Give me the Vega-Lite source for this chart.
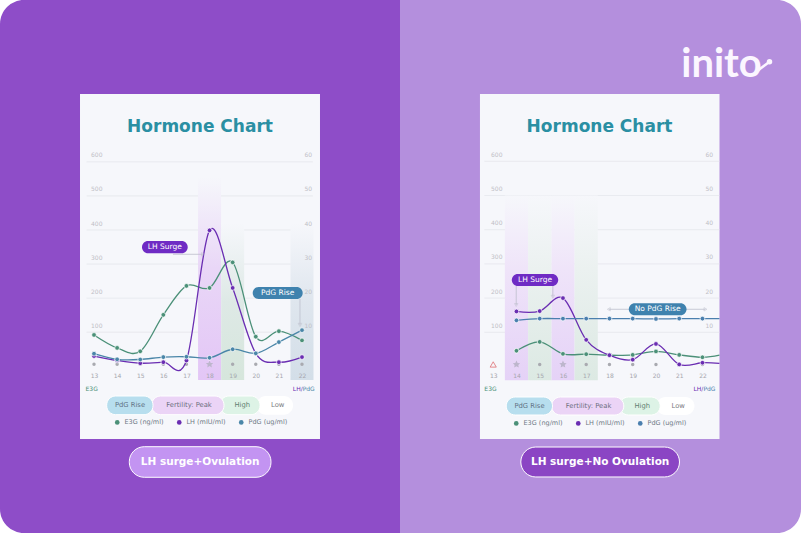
{
"$schema":"https://vega.github.io/schema/vega-lite/v6.json",
"background":"#ffffff",
"padding":0,
"spacing":0,
"bounds":"flush",
"config":{"view":{"stroke":null},"text":{"font":"DejaVu Sans"},"legend":{"labelFont":"DejaVu Sans"},"axis":{"labelFont":"DejaVu Sans"}},
"datasets":{
"one":[{"item":"annotation"}],
"grid":[{"level":100},{"level":200},{"level":300},{"level":400},{"level":500},{"level":600}],
"daysA":[{"day":13,"fertility":"Low","marker":"dot"},{"day":14,"fertility":"Low","marker":"dot"},{"day":15,"fertility":"Low","marker":"dot"},{"day":16,"fertility":"Low","marker":"dot"},{"day":17,"fertility":"Low","marker":"dot"},{"day":18,"fertility":"Peak","marker":"star"},{"day":19,"fertility":"High","marker":"dot"},{"day":20,"fertility":"Low","marker":"dot"},{"day":21,"fertility":"Low","marker":"dot"},{"day":22,"fertility":"PdG","marker":"dot"}],
"daysB":[{"day":13,"fertility":"Low","marker":"warning"},{"day":14,"fertility":"Peak","marker":"star"},{"day":15,"fertility":"High","marker":"dot"},{"day":16,"fertility":"Peak","marker":"star"},{"day":17,"fertility":"High","marker":"dot"},{"day":18,"fertility":"Low","marker":"dot"},{"day":19,"fertility":"Low","marker":"dot"},{"day":20,"fertility":"Low","marker":"dot"},{"day":21,"fertility":"Low","marker":"dot"},{"day":22,"fertility":"Low","marker":"dot"}],
"ovulation":[
{"day":13,"series":"E3G (ng/ml)","value":92},{"day":14,"series":"E3G (ng/ml)","value":54},{"day":15,"series":"E3G (ng/ml)","value":44},{"day":16,"series":"E3G (ng/ml)","value":151},{"day":17,"series":"E3G (ng/ml)","value":236},{"day":18,"series":"E3G (ng/ml)","value":230},{"day":19,"series":"E3G (ng/ml)","value":305},{"day":20,"series":"E3G (ng/ml)","value":87},{"day":21,"series":"E3G (ng/ml)","value":103},{"day":22,"series":"E3G (ng/ml)","value":76},
{"day":13,"series":"LH (mIU/ml)","value":3.0},{"day":14,"series":"LH (mIU/ml)","value":1.7},{"day":15,"series":"LH (mIU/ml)","value":0.9},{"day":16,"series":"LH (mIU/ml)","value":1.2},{"day":17,"series":"LH (mIU/ml)","value":1.7},{"day":18,"series":"LH (mIU/ml)","value":39.9},{"day":19,"series":"LH (mIU/ml)","value":23},{"day":20,"series":"LH (mIU/ml)","value":3.8},{"day":21,"series":"LH (mIU/ml)","value":1.2},{"day":22,"series":"LH (mIU/ml)","value":2.7},
{"day":13,"series":"PdG (ug/ml)","value":3.7},{"day":14,"series":"PdG (ug/ml)","value":2.05},{"day":15,"series":"PdG (ug/ml)","value":2.0},{"day":16,"series":"PdG (ug/ml)","value":2.7},{"day":17,"series":"PdG (ug/ml)","value":2.8},{"day":18,"series":"PdG (ug/ml)","value":2.5},{"day":19,"series":"PdG (ug/ml)","value":5},{"day":20,"series":"PdG (ug/ml)","value":3.8},{"day":21,"series":"PdG (ug/ml)","value":7.1},{"day":22,"series":"PdG (ug/ml)","value":10.6}
],
"noOvulation":[
{"day":14,"series":"E3G (ng/ml)","value":46},{"day":15,"series":"E3G (ng/ml)","value":72},{"day":16,"series":"E3G (ng/ml)","value":37},{"day":17,"series":"E3G (ng/ml)","value":36},{"day":18,"series":"E3G (ng/ml)","value":33},{"day":19,"series":"E3G (ng/ml)","value":34},{"day":20,"series":"E3G (ng/ml)","value":44},{"day":21,"series":"E3G (ng/ml)","value":34},{"day":22,"series":"E3G (ng/ml)","value":27},{"day":22.73,"series":"E3G (ng/ml)","value":33},
{"day":14,"series":"LH (mIU/ml)","value":16.1},{"day":15,"series":"LH (mIU/ml)","value":16.2},{"day":16,"series":"LH (mIU/ml)","value":20},{"day":17,"series":"LH (mIU/ml)","value":7.8},{"day":18,"series":"LH (mIU/ml)","value":3.3},{"day":19,"series":"LH (mIU/ml)","value":2.0},{"day":20,"series":"LH (mIU/ml)","value":6.6},{"day":21,"series":"LH (mIU/ml)","value":0.6},{"day":22,"series":"LH (mIU/ml)","value":1.1},{"day":22.73,"series":"LH (mIU/ml)","value":0.9},
{"day":14,"series":"PdG (ug/ml)","value":13.5},{"day":15,"series":"PdG (ug/ml)","value":14},{"day":16,"series":"PdG (ug/ml)","value":14},{"day":17,"series":"PdG (ug/ml)","value":14},{"day":18,"series":"PdG (ug/ml)","value":14},{"day":19,"series":"PdG (ug/ml)","value":14},{"day":20,"series":"PdG (ug/ml)","value":13.9},{"day":21,"series":"PdG (ug/ml)","value":14},{"day":22,"series":"PdG (ug/ml)","value":14},{"day":22.73,"series":"PdG (ug/ml)","value":14}
]
},
"hconcat":[
{
"width":400,"height":533,
"resolve":{"scale":{"y":"independent"}},
"layer":[
{"layer":[
{"data":{"name":"one"},"mark":{"type":"rect","color":"#8E4DC8","cornerRadiusTopLeft":24,"cornerRadiusBottomLeft":24},
"encoding":{"x":{"datum":8.932,"scale":{"domain":[8.932,26.241],"nice":false,"zero":false,"padding":0},"axis":{"values":[13,14,15,16,17,18,19,20,21,22],"orient":"bottom","offset":-161,"domain":false,"ticks":false,"grid":false,"labelPadding":0,"labelFontSize":6,"labelColor":"#A5A6AD","title":null,"zindex":2,"labelBaseline":"top"}},"x2":{"datum":26.241},"y":{"datum":-489.3,"scale":{"domain":[-489.3,1075.1],"nice":false,"zero":false},"axis":{"values":[100,200,300,400,500,600],"orient":"left","offset":-102,"domain":false,"ticks":false,"grid":false,"labelPadding":0,"labelOffset":-7,"labelFontSize":6,"labelColor":"#BFC0C6","title":null,"zindex":2}},"y2":{"datum":1075.1}}},
{"data":{"name":"one"},"mark":{"type":"rect","color":"#F6F7FB"},
"encoding":{"x":{"datum":12.394},"x2":{"datum":22.779},"y":{"datum":-213.4},"y2":{"datum":799.2}}},
{"data":{"name":"grid"},"mark":{"type":"rule","color":"#E3E4EA","strokeWidth":0.7},
"encoding":{"x":{"datum":12.68},"x2":{"datum":22.47},"y":{"field":"level","type":"quantitative"}}},
{"data":{"name":"daysA"},"transform":[{"filter":"datum.fertility==='Peak'"}],
"mark":{"type":"bar","size":23,"orient":"vertical","color":{"gradient":"linear","x1":0,"y1":0,"x2":0,"y2":1,"stops":[{"offset":0,"color":"#F6F7FB"},{"offset":0.45,"color":"#E9D7F7"},{"offset":1,"color":"#E3C6F6"}]}},
"encoding":{"x":{"field":"day","type":"quantitative"},"y":{"datum":-40},"y2":{"datum":556}}},
{"data":{"name":"daysA"},"transform":[{"filter":"datum.fertility==='High'"}],
"mark":{"type":"bar","size":23,"orient":"vertical","color":{"gradient":"linear","x1":0,"y1":0,"x2":0,"y2":1,"stops":[{"offset":0,"color":"#F6F7FB"},{"offset":0.5,"color":"#DEE9E6"},{"offset":1,"color":"#D6E6DC"}]}},
"encoding":{"x":{"field":"day","type":"quantitative"},"y":{"datum":-40},"y2":{"datum":420}}},
{"data":{"name":"daysA"},"transform":[{"filter":"datum.fertility==='PdG'"}],
"mark":{"type":"bar","size":23,"orient":"vertical","color":{"gradient":"linear","x1":0,"y1":0,"x2":0,"y2":1,"stops":[{"offset":0,"color":"#F6F7FB"},{"offset":0.5,"color":"#DFE6EE"},{"offset":1,"color":"#D3DEE8"}]}},
"encoding":{"x":{"field":"day","type":"quantitative"},"y":{"datum":-40},"y2":{"datum":420}}},
{"data":{"name":"daysA"},"transform":[{"filter":"datum.marker==='dot'"}],"mark":{"type":"point","filled":true,"shape":"circle","size":12,"color":"#A9AAB0","opacity":1},
"encoding":{"x":{"field":"day","type":"quantitative"},"y":{"datum":6}}},
{"data":{"name":"daysA"},"transform":[{"filter":"datum.marker==='star'"}],"mark":{"type":"point","filled":true,"shape":"M0,-1L0.29,-0.35L0.95,-0.31L0.47,0.12L0.59,0.81L0,0.45L-0.59,0.81L-0.47,0.12L-0.95,-0.31L-0.29,-0.35Z","size":60,"color":"#BDB6CC","opacity":1},
"encoding":{"x":{"field":"day","type":"quantitative"},"y":{"datum":6}}},
{"data":{"name":"ovulation"},"transform":[{"filter":"datum.series==='E3G (ng/ml)'"}],"mark":{"type":"line","interpolate":"cardinal","strokeWidth":1.3},
"encoding":{"x":{"field":"day","type":"quantitative"},"y":{"field":"value","type":"quantitative"},"color":{"field":"series","type":"nominal"}}},
{"data":{"name":"ovulation"},"transform":[{"filter":"datum.series==='E3G (ng/ml)'"}],"mark":{"type":"point","filled":true,"size":22,"stroke":"#ffffff","strokeWidth":0.7,"opacity":1},
"encoding":{"x":{"field":"day","type":"quantitative"},"y":{"field":"value","type":"quantitative"},"color":{"field":"series","type":"nominal","scale":{"domain":["E3G (ng/ml)","LH (mIU/ml)","PdG (ug/ml)"],"range":["#4B9078","#6A2DB2","#4A86A8"]},"legend":{"orient":"none","legendX":114,"legendY":419,"direction":"horizontal","columns":3,"title":null,"symbolType":"circle","symbolSize":22,"symbolStrokeWidth":0,"labelFontSize":6.5,"labelColor":"#6F7A86","columnPadding":12,"labelOffset":4,"zindex":3}}}}
]},
{"layer":[
{"data":{"name":"ovulation"},"transform":[{"filter":"datum.series!=='E3G (ng/ml)'"}],"mark":{"type":"line","interpolate":"cardinal","strokeWidth":1.3},
"encoding":{"x":{"field":"day","type":"quantitative"},"y":{"field":"value","type":"quantitative","scale":{"domain":[-48.93,107.51],"nice":false,"zero":false},"axis":{"values":[10,20,30,40,50,60],"orient":"right","offset":-96,"domain":false,"ticks":false,"grid":false,"labelPadding":0,"labelOffset":-7,"labelFontSize":6,"labelColor":"#BFC0C6","title":null,"zindex":2}},"color":{"field":"series","type":"nominal"}}},
{"data":{"name":"ovulation"},"transform":[{"filter":"datum.series!=='E3G (ng/ml)'"}],"mark":{"type":"point","filled":true,"size":22,"stroke":"#ffffff","strokeWidth":0.7,"opacity":1},
"encoding":{"x":{"field":"day","type":"quantitative"},"y":{"field":"value","type":"quantitative"},"color":{"field":"series","type":"nominal"}}}
]},
{"layer":[
{"data":{"name":"one"},"mark":{"type":"rule","color":"#BDBFCB","strokeWidth":0.8},"encoding":{"x":{"datum":16.418},"x2":{"datum":17.716},"y":{"datum":328.7,"axis":null,"scale":{"domain":[-489.3,1075.1],"nice":false,"zero":false}}}},
{"data":{"name":"one"},"mark":{"type":"point","shape":"triangle-right","size":12,"color":"#BDBFCB","strokeWidth":0.7},"encoding":{"x":{"datum":17.716},"y":{"datum":328.7,"axis":null}}},
{"data":{"name":"one"},"mark":{"type":"rule","color":"#BDBFCB","strokeWidth":0.8},"encoding":{"x":{"datum":21.913},"y":{"datum":197.5,"axis":null},"y2":{"datum":121.2}}},
{"data":{"name":"one"},"mark":{"type":"point","shape":"triangle-down","size":14,"color":"#BDBFCB","strokeWidth":0.7},"encoding":{"x":{"datum":21.913},"y":{"datum":121.2,"axis":null}}},
{"data":{"name":"one"},"mark":{"type":"rect","color":"#6F2BC4","cornerRadius":6},"encoding":{"x":{"datum":15.077},"x2":{"datum":17.054},"y":{"datum":331.7,"axis":null},"y2":{"datum":367.8}}},
{"data":{"values":[{"label":"LH Surge"}]},"mark":{"type":"text","color":"#ffffff","fontSize":7.5,"fontWeight":500},"encoding":{"text":{"field":"label"},"x":{"datum":16.063},"y":{"datum":349.6,"axis":null}}},
{"data":{"name":"one"},"mark":{"type":"rect","color":"#3F82AE","cornerRadius":6},"encoding":{"x":{"datum":19.867},"x2":{"datum":22.03},"y":{"datum":197.5,"axis":null},"y2":{"datum":232.8}}},
{"data":{"values":[{"label":"PdG Rise"}]},"mark":{"type":"text","color":"#ffffff","fontSize":7.5,"fontWeight":500},"encoding":{"text":{"field":"label"},"x":{"datum":20.948},"y":{"datum":215.1,"axis":null}}},
{"data":{"values":[{"label":"Hormone Chart"}]},"mark":{"type":"text","color":"#2A8FA3","fontSize":17,"fontWeight":"bold"},"encoding":{"text":{"field":"label"},"x":{"datum":17.586},"y":{"datum":703,"axis":null}}},
{"data":{"values":[{"label":"E3G"}]},"mark":{"type":"text","color":"#4B9078","fontSize":6},"encoding":{"text":{"field":"label"},"x":{"datum":12.9},"y":{"datum":-65.7,"axis":null}}},
{"data":{"values":[{"label":"LH/"}]},"mark":{"type":"text","color":"#6A2DB2","fontSize":6,"align":"right"},"encoding":{"text":{"field":"label"},"x":{"datum":22.03},"y":{"datum":-65.7,"axis":null}}},
{"data":{"values":[{"label":"PdG"}]},"mark":{"type":"text","color":"#4A86A8","fontSize":6,"align":"left"},"encoding":{"text":{"field":"label"},"x":{"datum":22.03},"y":{"datum":-65.7,"axis":null}}},
{"data":{"name":"one"},"mark":{"type":"rect","color":"#FFFFFF","cornerRadius":9},"encoding":{"x":{"datum":20.04},"x2":{"datum":21.61},"y":{"datum":-142,"axis":null},"y2":{"datum":-87.2}}},
{"data":{"name":"one"},"mark":{"type":"rect","color":"#DDF3E6","cornerRadius":9,"stroke":"#ffffff","strokeWidth":1},"encoding":{"x":{"datum":18.451},"x2":{"datum":20.183},"y":{"datum":-142,"axis":null},"y2":{"datum":-87.2}}},
{"data":{"name":"one"},"mark":{"type":"rect","color":"#EBD4F6","cornerRadius":9,"stroke":"#ffffff","strokeWidth":1},"encoding":{"x":{"datum":15.496},"x2":{"datum":18.625},"y":{"datum":-142,"axis":null},"y2":{"datum":-87.2}}},
{"data":{"name":"one"},"mark":{"type":"rect","color":"#B7DEEE","cornerRadius":9,"stroke":"#ffffff","strokeWidth":1},"encoding":{"x":{"datum":13.549},"x2":{"datum":15.553},"y":{"datum":-142,"axis":null},"y2":{"datum":-87.2}}},
{"data":{"values":[{"label":"PdG Rise"}]},"mark":{"type":"text","color":"#5F7183","fontSize":6.8},"encoding":{"text":{"field":"label"},"x":{"datum":14.557},"y":{"datum":-115,"axis":null}}},
{"data":{"values":[{"label":"Fertility: Peak"}]},"mark":{"type":"text","color":"#6B6F80","fontSize":6.8},"encoding":{"text":{"field":"label"},"x":{"datum":17.11},"y":{"datum":-115,"axis":null}}},
{"data":{"values":[{"label":"High"}]},"mark":{"type":"text","color":"#5F7F70","fontSize":6.8},"encoding":{"text":{"field":"label"},"x":{"datum":19.417},"y":{"datum":-115,"axis":null}}},
{"data":{"values":[{"label":"Low"}]},"mark":{"type":"text","color":"#7A7A80","fontSize":6.8},"encoding":{"text":{"field":"label"},"x":{"datum":20.95},"y":{"datum":-115,"axis":null}}},
{"data":{"name":"one"},"mark":{"type":"rect","color":"#C394F2","cornerRadius":15,"stroke":"#ffffff","strokeWidth":1},"encoding":{"x":{"datum":14.527},"x2":{"datum":20.659},"y":{"datum":-325.8,"axis":null},"y2":{"datum":-236}}},
{"data":{"values":[{"label":"LH surge+Ovulation"}]},"mark":{"type":"text","color":"#ffffff","fontSize":10.5,"fontWeight":"bold"},"encoding":{"text":{"field":"label"},"x":{"datum":17.593},"y":{"datum":-280.9,"axis":null}}}
]}
]
},
{
"width":401,"height":533,
"resolve":{"scale":{"y":"independent"}},
"layer":[
{"layer":[
{"data":{"name":"one"},"mark":{"type":"rect","color":"#B48FDD","cornerRadiusTopRight":24,"cornerRadiusBottomRight":24},
"encoding":{"x":{"datum":8.991,"scale":{"domain":[8.991,26.238],"nice":false,"zero":false,"padding":0},"axis":{"values":[13,14,15,16,17,18,19,20,21,22],"orient":"bottom","offset":-161,"domain":false,"ticks":false,"grid":false,"labelPadding":0,"labelFontSize":6,"labelColor":"#A5A6AD","title":null,"zindex":2,"labelBaseline":"top"}},"x2":{"datum":26.238},"y":{"datum":-486.8,"scale":{"domain":[-486.8,1071.6],"nice":false,"zero":false},"axis":{"values":[100,200,300,400,500,600],"orient":"left","offset":-102,"domain":false,"ticks":false,"grid":false,"labelPadding":0,"labelOffset":-7,"labelFontSize":6,"labelColor":"#BFC0C6","title":null,"zindex":2}},"y2":{"datum":1071.6}}},
{"data":{"name":"one"},"mark":{"type":"rect","color":"#F6F7FB"},
"encoding":{"x":{"datum":12.43},"x2":{"datum":22.733},"y":{"datum":-212},"y2":{"datum":796.8}}},
{"data":{"name":"grid"},"mark":{"type":"rule","color":"#E3E4EA","strokeWidth":0.7},
"encoding":{"x":{"datum":12.62},"x2":{"datum":22.733},"y":{"field":"level","type":"quantitative"}}},
{"data":{"name":"daysB"},"transform":[{"filter":"datum.fertility==='Peak'"}],
"mark":{"type":"bar","size":23.2,"orient":"vertical","color":{"gradient":"linear","x1":0,"y1":0,"x2":0,"y2":1,"stops":[{"offset":0,"color":"#F6F7FB"},{"offset":0.4,"color":"#EFE4F9"},{"offset":1,"color":"#E5D2F7"}]}},
"encoding":{"x":{"field":"day","type":"quantitative"},"y":{"datum":-40},"y2":{"datum":500}}},
{"data":{"name":"daysB"},"transform":[{"filter":"datum.fertility==='High'"}],
"mark":{"type":"bar","size":23.2,"orient":"vertical","color":{"gradient":"linear","x1":0,"y1":0,"x2":0,"y2":1,"stops":[{"offset":0,"color":"#F6F7FB"},{"offset":0.4,"color":"#EBF1F0"},{"offset":1,"color":"#DCE9E3"}]}},
"encoding":{"x":{"field":"day","type":"quantitative"},"y":{"datum":-40},"y2":{"datum":500}}},
{"data":{"name":"daysB"},"transform":[{"filter":"datum.marker==='dot'"}],"mark":{"type":"point","filled":true,"shape":"circle","size":12,"color":"#A9AAB0","opacity":1},
"encoding":{"x":{"field":"day","type":"quantitative"},"y":{"datum":6}}},
{"data":{"name":"daysB"},"transform":[{"filter":"datum.marker==='star'"}],"mark":{"type":"point","filled":true,"shape":"M0,-1L0.29,-0.35L0.95,-0.31L0.47,0.12L0.59,0.81L0,0.45L-0.59,0.81L-0.47,0.12L-0.95,-0.31L-0.29,-0.35Z","size":60,"color":"#BDB6CC","opacity":1},
"encoding":{"x":{"field":"day","type":"quantitative"},"y":{"datum":6}}},
{"data":{"name":"daysB"},"transform":[{"filter":"datum.marker==='warning'"}],"mark":{"type":"point","shape":"triangle-up","size":38,"color":"#E07C80","strokeWidth":0.9,"opacity":1},
"encoding":{"x":{"field":"day","type":"quantitative"},"y":{"datum":6}}},
{"data":{"name":"noOvulation"},"transform":[{"filter":"datum.series==='E3G (ng/ml)'"}],"mark":{"type":"line","interpolate":"cardinal","strokeWidth":1.3},
"encoding":{"x":{"field":"day","type":"quantitative"},"y":{"field":"value","type":"quantitative"},"color":{"field":"series","type":"nominal"}}},
{"data":{"name":"noOvulation"},"transform":[{"filter":"datum.series==='E3G (ng/ml)' && datum.day<=22"}],"mark":{"type":"point","filled":true,"size":22,"stroke":"#ffffff","strokeWidth":0.7,"opacity":1},
"encoding":{"x":{"field":"day","type":"quantitative"},"y":{"field":"value","type":"quantitative"},"color":{"field":"series","type":"nominal","scale":{"domain":["E3G (ng/ml)","LH (mIU/ml)","PdG (ug/ml)"],"range":["#4B9078","#6A2DB2","#4A7FAE"]},"legend":{"orient":"none","legendX":113,"legendY":420,"direction":"horizontal","columns":3,"title":null,"symbolType":"circle","symbolSize":22,"symbolStrokeWidth":0,"labelFontSize":6.5,"labelColor":"#6F7A86","columnPadding":12,"labelOffset":4,"zindex":3}}}}
]},
{"layer":[
{"data":{"name":"noOvulation"},"transform":[{"filter":"datum.series!=='E3G (ng/ml)'"}],"mark":{"type":"line","interpolate":"cardinal","strokeWidth":1.3},
"encoding":{"x":{"field":"day","type":"quantitative"},"y":{"field":"value","type":"quantitative","scale":{"domain":[-48.68,107.16],"nice":false,"zero":false},"axis":{"values":[10,20,30,40,50,60],"orient":"right","offset":-96,"domain":false,"ticks":false,"grid":false,"labelPadding":0,"labelOffset":-7,"labelFontSize":6,"labelColor":"#BFC0C6","title":null,"zindex":2}},"color":{"field":"series","type":"nominal"}}},
{"data":{"name":"noOvulation"},"transform":[{"filter":"datum.series!=='E3G (ng/ml)' && datum.day<=22"}],"mark":{"type":"point","filled":true,"size":22,"stroke":"#ffffff","strokeWidth":0.7,"opacity":1},
"encoding":{"x":{"field":"day","type":"quantitative"},"y":{"field":"value","type":"quantitative"},"color":{"field":"series","type":"nominal"}}}
]},
{"layer":[
{"data":{"name":"one"},"mark":{"type":"rule","color":"#BDBFCB","strokeWidth":0.8},"encoding":{"x":{"datum":13.99},"y":{"datum":235.4,"axis":null,"scale":{"domain":[-486.8,1071.6],"nice":false,"zero":false}},"y2":{"datum":179.8}}},
{"data":{"name":"one"},"mark":{"type":"point","shape":"triangle-down","size":12,"color":"#BDBFCB","strokeWidth":0.7},"encoding":{"x":{"datum":13.99},"y":{"datum":179.8,"axis":null}}},
{"data":{"name":"one"},"mark":{"type":"rule","color":"#BDBFCB","strokeWidth":0.8},"encoding":{"x":{"datum":15.565},"y":{"datum":235.4,"axis":null},"y2":{"datum":204}}},
{"data":{"name":"one"},"mark":{"type":"point","shape":"triangle-down","size":12,"color":"#BDBFCB","strokeWidth":0.7},"encoding":{"x":{"datum":15.565},"y":{"datum":204,"axis":null}}},
{"data":{"name":"one"},"mark":{"type":"rule","color":"#BDBFCB","strokeWidth":0.8},"encoding":{"x":{"datum":17.972},"x2":{"datum":22.13},"y":{"datum":167.3,"axis":null}}},
{"data":{"name":"one"},"mark":{"type":"point","shape":"triangle-left","size":12,"color":"#BDBFCB","strokeWidth":0.7},"encoding":{"x":{"datum":17.972},"y":{"datum":167.3,"axis":null}}},
{"data":{"name":"one"},"mark":{"type":"point","shape":"triangle-right","size":12,"color":"#BDBFCB","strokeWidth":0.7},"encoding":{"x":{"datum":22.13},"y":{"datum":167.3,"axis":null}}},
{"data":{"name":"one"},"mark":{"type":"rect","color":"#6F2BC4","cornerRadius":6},"encoding":{"x":{"datum":13.8},"x2":{"datum":15.795},"y":{"datum":235.4,"axis":null},"y2":{"datum":270.5}}},
{"data":{"values":[{"label":"LH Surge"}]},"mark":{"type":"text","color":"#ffffff","fontSize":7.5,"fontWeight":500},"encoding":{"text":{"field":"label"},"x":{"datum":14.8},"y":{"datum":252.9,"axis":null}}},
{"data":{"name":"one"},"mark":{"type":"rect","color":"#3F82AE","cornerRadius":6},"encoding":{"x":{"datum":18.832},"x2":{"datum":21.314},"y":{"datum":149.7,"axis":null},"y2":{"datum":184.8}}},
{"data":{"values":[{"label":"No PdG Rise"}]},"mark":{"type":"text","color":"#ffffff","fontSize":7.5,"fontWeight":500},"encoding":{"text":{"field":"label"},"x":{"datum":20.073},"y":{"datum":167.3,"axis":null}}},
{"data":{"values":[{"label":"Hormone Chart"}]},"mark":{"type":"text","color":"#2A8FA3","fontSize":17,"fontWeight":"bold"},"encoding":{"text":{"field":"label"},"x":{"datum":17.572},"y":{"datum":701,"axis":null}}},
{"data":{"values":[{"label":"E3G"}]},"mark":{"type":"text","color":"#4B9078","fontSize":6},"encoding":{"text":{"field":"label"},"x":{"datum":12.883},"y":{"datum":-64.9,"axis":null}}},
{"data":{"values":[{"label":"LH/"}]},"mark":{"type":"text","color":"#6A2DB2","fontSize":6,"align":"right"},"encoding":{"text":{"field":"label"},"x":{"datum":22.04},"y":{"datum":-64.9,"axis":null}}},
{"data":{"values":[{"label":"PdG"}]},"mark":{"type":"text","color":"#4A7FAE","fontSize":6,"align":"left"},"encoding":{"text":{"field":"label"},"x":{"datum":22.04},"y":{"datum":-64.9,"axis":null}}},
{"data":{"name":"one"},"mark":{"type":"rect","color":"#FFFFFF","cornerRadius":9},"encoding":{"x":{"datum":20.024},"x2":{"datum":21.658},"y":{"datum":-141.8,"axis":null},"y2":{"datum":-89.2}}},
{"data":{"name":"one"},"mark":{"type":"rect","color":"#DDF3E6","cornerRadius":9,"stroke":"#ffffff","strokeWidth":1},"encoding":{"x":{"datum":18.432},"x2":{"datum":20.182},"y":{"datum":-141.8,"axis":null},"y2":{"datum":-89.2}}},
{"data":{"name":"one"},"mark":{"type":"rect","color":"#EBD4F6","cornerRadius":9,"stroke":"#ffffff","strokeWidth":1},"encoding":{"x":{"datum":15.507},"x2":{"datum":18.617},"y":{"datum":-141.8,"axis":null},"y2":{"datum":-89.2}}},
{"data":{"name":"one"},"mark":{"type":"rect","color":"#B7DEEE","cornerRadius":9,"stroke":"#ffffff","strokeWidth":1},"encoding":{"x":{"datum":13.559},"x2":{"datum":15.55},"y":{"datum":-141.8,"axis":null},"y2":{"datum":-89.2}}},
{"data":{"values":[{"label":"PdG Rise"}]},"mark":{"type":"text","color":"#5F7183","fontSize":6.8},"encoding":{"text":{"field":"label"},"x":{"datum":14.561},"y":{"datum":-115.5,"axis":null}}},
{"data":{"values":[{"label":"Fertility: Peak"}]},"mark":{"type":"text","color":"#6B6F80","fontSize":6.8},"encoding":{"text":{"field":"label"},"x":{"datum":17.099},"y":{"datum":-115.5,"axis":null}}},
{"data":{"values":[{"label":"High"}]},"mark":{"type":"text","color":"#5F7F70","fontSize":6.8},"encoding":{"text":{"field":"label"},"x":{"datum":19.408},"y":{"datum":-115.5,"axis":null}}},
{"data":{"values":[{"label":"Low"}]},"mark":{"type":"text","color":"#7A7A80","fontSize":6.8},"encoding":{"text":{"field":"label"},"x":{"datum":20.957},"y":{"datum":-115.5,"axis":null}}},
{"data":{"name":"one"},"mark":{"type":"rect","color":"#8B45C4","cornerRadius":15,"stroke":"#ffffff","strokeWidth":1},"encoding":{"x":{"datum":14.187},"x2":{"datum":21.012},"y":{"datum":-323,"axis":null},"y2":{"datum":-235.4}}},
{"data":{"values":[{"label":"LH surge+No Ovulation"}]},"mark":{"type":"text","color":"#ffffff","fontSize":10.5,"fontWeight":"bold"},"encoding":{"text":{"field":"label"},"x":{"datum":17.6},"y":{"datum":-279.2,"axis":null}}},
{"data":{"values":[{"label":"inito"}]},"mark":{"type":"text","color":"#FBF6FF","font":"Lato","fontSize":40,"fontWeight":"bold","baseline":"alphabetic"},"encoding":{"text":{"field":"label"},"x":{"datum":22.82},"y":{"datum":846,"axis":null}}},
{"data":{"name":"one"},"mark":{"type":"rule","color":"#FBF6FF","strokeWidth":2.5},"encoding":{"x":{"datum":24.41},"x2":{"datum":24.884},"y":{"datum":866.9,"axis":null},"y2":{"datum":891.2}}},
{"data":{"name":"one"},"mark":{"type":"point","filled":true,"shape":"circle","size":30,"color":"#FBF6FF","opacity":1},"encoding":{"x":{"datum":24.884},"y":{"datum":891.2,"axis":null}}}
]}
]
}
],
"resolve":{"scale":{"color":"independent","x":"independent","y":"independent"},"legend":{"color":"independent"}}
}
